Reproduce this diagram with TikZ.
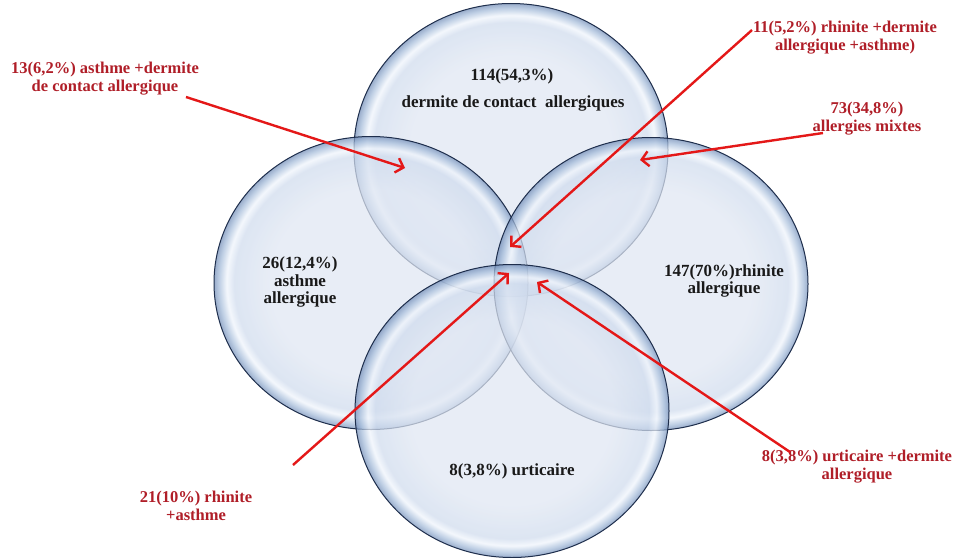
\documentclass[tikz,border=0pt]{standalone}
\usepackage{fontspec}
\setmainfont{Liberation Serif}
\usetikzlibrary{shapes.geometric,arrows.meta}
\definecolor{lblred}{RGB}{176,30,40}
\definecolor{arrred}{RGB}{228,24,24}
\definecolor{rimnavy}{RGB}{30,46,76}
\definecolor{bcore}{RGB}{224,231,243}
\definecolor{bmid}{RGB}{208,220,238}
\definecolor{bhigh}{RGB}{240,245,252}
\definecolor{bband}{RGB}{165,188,218}
\definecolor{bedge}{RGB}{115,142,184}
\pgfdeclareradialshading{bubble}{\pgfpoint{0bp}{0bp}}{%
  color(0bp)=(bcore); color(16bp)=(bcore); color(21.8bp)=(bmid);
  color(23bp)=(bhigh); color(24.2bp)=(bband); color(25bp)=(bedge); color(50bp)=(bedge)}
\tikzset{
  bubblebox/.style={ellipse, minimum width=314pt, minimum height=293pt, inner sep=0pt,
    shading=bubble, fill opacity=0.72, draw=rimnavy, draw opacity=1, line width=1pt},
  blacktxt/.style={font=\bfseries\fontsize{17}{17.5}\selectfont, text=black!90, align=center, inner sep=0pt},
  redtxt/.style={font=\bfseries\fontsize{16.5}{18}\selectfont, text=lblred, align=center, inner sep=0pt},
  redarrow/.style={draw=arrred, line width=2.4pt, -{Straight Barb[length=7pt,width=15pt,line width=2.4pt]}}
}
\begin{document}
\begin{tikzpicture}[x=1pt,y=-1pt]
\useasboundingbox[fill=white] (0,0) rectangle (958,557);
% ellipses
\node[bubblebox] (ctop) at (511,150) {};
\node[bubblebox] (cleft) at (371,283) {};
\node[bubblebox] (cright) at (651,284) {};
\node[bubblebox] (cbot) at (512,411) {};
% inner texts
\node[blacktxt] (ttop1) at (512,76) {114(54,3\%)};
\node[blacktxt] (ttop2) at (513,103) {dermite de contact\ \ allergiques};
\node[blacktxt] (tleft) at (300,282) {26(12,4\%)\\asthme\\allergique};
\node[blacktxt] (tright) at (724,281) {147(70\%)rhinite\\allergique};
\node[blacktxt] (tbot) at (512,471) {8(3,8\%) urticaire};
% red labels
\node[redtxt] (l1) at (105,79) {13(6,2\%) asthme +dermite\\de contact allergique};
\node[redtxt] (l2) at (845,38) {11(5,2\%) rhinite +dermite\\allergique +asthme)};
\node[redtxt] (l3) at (867,119) {73(34,8\%)\\allergies mixtes};
\node[redtxt] (l4) at (196,506) {21(10\%) rhinite\\+asthme};
\node[redtxt] (l5) at (857,467) {8(3,8\%) urticaire +dermite\\allergique};
% arrow ends
\coordinate (s1) at (186,97);
\coordinate (e1) at (405,168);
\coordinate (s2) at (752,30);
\coordinate (e2) at (510,247);
\coordinate (s3) at (823,133);
\coordinate (e3) at (640,160);
\coordinate (s4) at (293,465);
\coordinate (e4) at (509,273);
\coordinate (s5) at (790,452);
\coordinate (e5) at (537,282);
\draw[redarrow] (s1) -- (e1);
\draw[redarrow] (s2) -- (e2);
\draw[redarrow] (s3) -- (e3);
\draw[redarrow] (s4) -- (e4);
\draw[redarrow] (s5) -- (e5);
\end{tikzpicture}
\end{document}
